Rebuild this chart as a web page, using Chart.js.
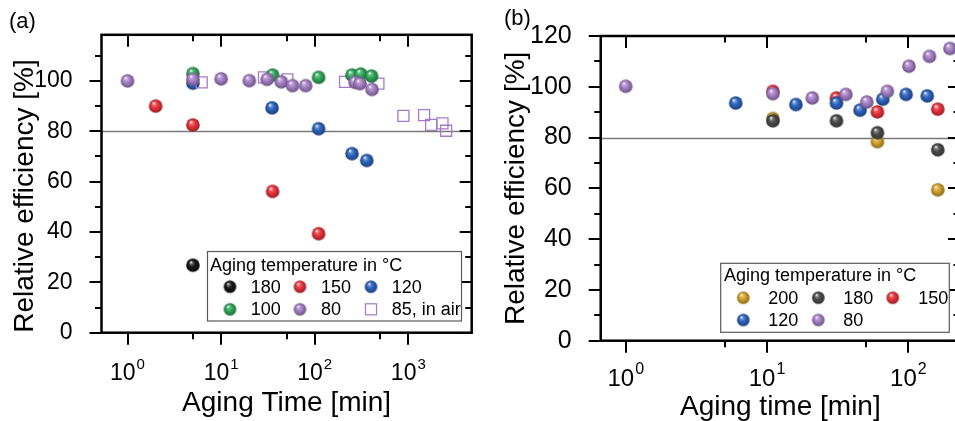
<!DOCTYPE html>
<html lang="en">
<head>
<meta charset="UTF-8">
<title>Relative efficiency vs. aging time</title>
<script src="https://cdn.jsdelivr.net/npm/chart.js"></script>
<style>
  html, body { margin: 0; padding: 0; background: #fff; overflow: hidden; }
  body { width: 955px; height: 421px; position: relative; }
  canvas { position: absolute; top: 0; }
  #chartA { left: 0; }
  #chartB { left: 480px; }
</style>
</head>
<body>
<canvas id="chartA" width="490" height="421"></canvas>
<canvas id="chartB" width="500" height="440"></canvas>
<script>
// ---- panel (a): aging time [min] / relative efficiency [%] ----
const timeA_t180 = [5];
const effA_t180 = [26.8];
const timeA_t150 = [2, 5, 35.5, 110];
const effA_t150 = [90, 82.5, 56.1, 39.3];
const timeA_t120 = [5, 35, 110, 250, 360];
const effA_t120 = [99.1, 89.3, 81.0, 71.1, 68.4];
const timeA_t100 = [5, 35.5, 110, 250, 310, 405];
const effA_t100 = [102.9, 102.3, 101.4, 102.3, 102.7, 101.9];
const timeA_t80 = [1, 5, 10, 20, 31, 44, 58, 80, 270, 305, 410];
const effA_t80 = [100, 100.6, 100.8, 100.1, 100.6, 99.6, 98.1, 98.1, 99.4, 98.9, 96.6];
const timeA_air85 = [6.2, 28.7, 51, 211, 479, 887, 1475, 1754, 2317, 2535];
const effA_air85 = [99.4, 101.4, 100.6, 99.6, 98.9, 86.1, 86.4, 82.5, 83.1, 80.2];

// ---- panel (b) ----
const timeB_t200 = [11, 60.4, 161.5];
const effB_t200 = [87.5, 78.4, 59.4];
const timeB_t180 = [11, 31, 60.4, 161.5];
const effB_t180 = [86.6, 86.6, 81.9, 75.2];
const timeB_t150 = [11, 31, 60.4, 161.5];
const effB_t150 = [98.2, 95.6, 90.1, 91.2];
const timeB_t120 = [6.0, 16.0, 31, 45.5, 65.9, 96.4, 136];
const effB_t120 = [93.6, 93.0, 93.6, 90.8, 95.1, 97.0, 96.4];
const timeB_t80 = [1, 11, 20.9, 36.1, 50.8, 71, 101, 141, 197];
const effB_t80 = [100.2, 97.3, 95.6, 97.0, 94.0, 98.2, 108.1, 112, 115.1];

// axis ticks
const xMajorA = [1, 10, 100, 1000];
const xMinorA = [5, 50, 500];
const xMajorB = [1, 10, 100];
const xMinorB = [5, 50];
const yMajor = [0, 20, 40, 60, 80, 100, 120];
const yMinor = [10, 30, 50, 70, 90, 110];
const thresholdLine = 80;

const FONT = "'Liberation Sans', Arial, sans-serif";
Chart.defaults.font.family = FONT;
Chart.defaults.color = '#000';

const COLORS = {
  t200: '#d3a12a',
  t180: '#151515',
  t180b: '#4a4a4a',
  t150: '#e8323b',
  t120: '#2b63bd',
  t100: '#2fa65a',
  t80: '#a57fc6',
  air: '#a679cb'
};

function hexToRgb(h) {
  const n = parseInt(h.slice(1), 16);
  return [(n >> 16) & 255, (n >> 8) & 255, n & 255];
}
function mix(c1, c2, t) {
  const a = hexToRgb(c1), b = hexToRgb(c2);
  return 'rgb(' + a.map((v, i) => Math.round(v + (b[i] - v) * t)).join(',') + ')';
}

// shaded sphere used as point style
function ball(color, r) {
  const s = Math.ceil(2 * r + 2);
  const c = document.createElement('canvas');
  c.width = s; c.height = s;
  const g = c.getContext('2d');
  const cx = s / 2, cy = s / 2;
  const grad = g.createRadialGradient(cx - r * 0.3, cy - r * 0.45, r * 0.04, cx, cy, r);
  grad.addColorStop(0, '#ffffff');
  grad.addColorStop(0.2, mix(color, '#ffffff', 0.3));
  grad.addColorStop(0.5, color);
  grad.addColorStop(1, mix(color, '#000000', 0.35));
  g.fillStyle = grad;
  g.beginPath();
  g.arc(cx, cy, r, 0, Math.PI * 2);
  g.fill();
  return c;
}

function pts(xs, ys) {
  return xs.map((x, i) => ({ x: x, y: ys[i] }));
}

function ballSet(label, xs, ys, color, order, r) {
  return {
    label: label,
    data: pts(xs, ys),
    pointStyle: ball(color, r),
    pointRadius: r,
    order: order
  };
}

// frame, ticks, x labels, reference line, legend and panel letter
function panelPlugin(o) {
  return {
    id: 'panel',
    beforeDatasetsDraw(chart) {
      const { ctx, chartArea: a, scales: { y } } = chart;
      const py = Math.round(y.getPixelForValue(thresholdLine)) + 0.5;
      ctx.save();
      ctx.strokeStyle = '#7a7a7a';
      ctx.lineWidth = 1.3;
      ctx.beginPath();
      ctx.moveTo(a.left, py);
      ctx.lineTo(a.right, py);
      ctx.stroke();
      ctx.restore();
    },
    afterDraw(chart) {
      const { ctx, chartArea: a, scales: { x, y } } = chart;
      ctx.save();
      ctx.strokeStyle = '#000';
      ctx.lineWidth = 2;
      ctx.beginPath();
      const seg = (x1, y1, x2, y2) => { ctx.moveTo(x1, y1); ctx.lineTo(x2, y2); };
      const inX = v => v >= x.min && v <= x.max;
      o.xMajor.filter(inX).forEach(v => {
        const p = Math.round(x.getPixelForValue(v));
        seg(p, a.bottom, p, a.bottom + o.major);
        seg(p, a.top, p, a.top + o.major);
      });
      o.xMinor.filter(inX).forEach(v => {
        const p = Math.round(x.getPixelForValue(v));
        seg(p, a.bottom, p, a.bottom + o.minor);
        seg(p, a.top, p, a.top + o.minor);
      });
      const inY = v => v >= y.min && v <= y.max;
      yMajor.filter(inY).forEach(v => {
        const p = Math.round(y.getPixelForValue(v));
        seg(a.left - o.major, p, a.left, p);
        seg(a.right - o.major, p, a.right, p);
      });
      yMinor.filter(inY).forEach(v => {
        const p = Math.round(y.getPixelForValue(v));
        seg(a.left - o.minor, p, a.left, p);
        seg(a.right - o.minor, p, a.right, p);
      });
      ctx.stroke();

      ctx.lineWidth = 2.5;
      ctx.strokeRect(a.left, a.top, a.right - a.left, a.bottom - a.top);

      // decade labels with superscript exponent
      ctx.fillStyle = '#000';
      ctx.textBaseline = 'alphabetic';
      ctx.textAlign = 'left';
      o.xMajor.filter(inX).forEach(v => {
        const p = x.getPixelForValue(v);
        const exp = String(Math.round(Math.log10(v)));
        ctx.font = o.tickSize + 'px ' + FONT;
        const wb = ctx.measureText('10').width;
        ctx.font = o.supSize + 'px ' + FONT;
        const ws = ctx.measureText(exp).width;
        const x0 = p - (wb + ws + 1) / 2;
        ctx.font = o.tickSize + 'px ' + FONT;
        ctx.fillText('10', x0, o.tickBase);
        ctx.font = o.supSize + 'px ' + FONT;
        ctx.fillText(exp, x0 + wb + 1, o.supBase);
      });

      // panel letter
      ctx.font = '22px ' + FONT;
      ctx.fillText(o.letter[0], o.letter[1], o.letter[2]);

      // legend
      const L = o.legend;
      ctx.fillStyle = '#fff';
      ctx.fillRect(L.box[0], L.box[1], L.box[2], L.box[3]);
      ctx.strokeStyle = '#5a5a5a';
      ctx.lineWidth = 1.2;
      ctx.strokeRect(L.box[0], L.box[1], L.box[2], L.box[3]);
      ctx.fillStyle = '#000';
      ctx.font = '18px ' + FONT;
      ctx.textBaseline = 'middle';
      ctx.fillText('Aging temperature in °C', L.titleX, L.titleY);
      L.items.forEach(it => {
        const cx = L.cols[it.col][0], cy = L.rows[it.row];
        if (it.square) {
          ctx.strokeStyle = COLORS.air;
          ctx.lineWidth = 1.2;
          ctx.strokeRect(cx - 5.5, cy - 5.5, 11, 11);
        } else {
          const img = ball(it.color, 6.3);
          ctx.drawImage(img, cx - img.width / 2, cy - img.height / 2);
        }
        ctx.fillStyle = '#000';
        ctx.fillText(it.text, L.cols[it.col][1], cy + 1);
      });
      ctx.restore();
    }
  };
}

function yScale(max, size, titleAlign, titlePadTop, width) {
  return {
    type: 'linear',
    min: 0,
    max: max,
    grid: { display: false },
    border: { display: false },
    ticks: { stepSize: 20, includeBounds: false, padding: 21, font: { size: size } },
    title: {
      display: true,
      text: 'Relative efficiency [%]',
      align: titleAlign,
      font: { size: 28, lineHeight: 1 },
      padding: { top: titlePadTop, bottom: 0 }
    },
    afterFit(s) { s.width = width; }
  };
}

function xScale(min, max, text, titlePadBottom, height) {
  return {
    type: 'logarithmic',
    min: min,
    max: max,
    grid: { display: false },
    border: { display: false },
    ticks: { display: false },
    title: {
      display: true,
      text: text,
      font: { size: 28, lineHeight: 1 },
      padding: { top: 0, bottom: titlePadBottom }
    },
    afterFit(s) { s.height = height; }
  };
}

const baseOptions = {
  responsive: false,
  animation: false,
  devicePixelRatio: 1,
  plugins: { legend: { display: false }, tooltip: { enabled: false } },
  events: []
};

const R = 6.8;

new Chart(document.getElementById('chartA'), {
  type: 'scatter',
  data: {
    datasets: [
      ballSet('80', timeA_t80, effA_t80, COLORS.t80, 0, R),
      {
        label: '85, in air',
        data: pts(timeA_air85, effA_air85),
        pointStyle: 'rect',
        pointRadius: 7.8,
        borderColor: COLORS.air,
        backgroundColor: 'rgba(0,0,0,0)',
        borderWidth: 1.3,
        order: 2
      },
      ballSet('100', timeA_t100, effA_t100, COLORS.t100, 1, R),
      ballSet('120', timeA_t120, effA_t120, COLORS.t120, 3, R),
      ballSet('150', timeA_t150, effA_t150, COLORS.t150, 4, R),
      ballSet('180', timeA_t180, effA_t180, COLORS.t180, 5, R)
    ]
  },
  options: Object.assign({}, baseOptions, {
    layout: { padding: { left: 0, top: 22.7, right: 18.3, bottom: 0 } },
    scales: {
      x: xScale(0.5275, 4757, 'Aging Time [min]', 3.7, 88.3),
      y: yScale(118.3, 23, 'start', 11, 101.5)
    }
  }),
  plugins: [panelPlugin({
    xMajor: xMajorA, xMinor: xMinorA, major: 12, minor: 6.5,
    tickSize: 23, supSize: 15, tickBase: 379.5, supBase: 368.5,
    letter: ['(a)', 9, 28],
    legend: {
      box: [207.5, 251.5, 254, 69.5],
      titleX: 210, titleY: 266,
      rows: [286.7, 309.3],
      cols: [[230, 250.7], [300, 321], [371, 391.7]],
      items: [
        { row: 0, col: 0, color: COLORS.t180, text: '180' },
        { row: 0, col: 1, color: COLORS.t150, text: '150' },
        { row: 0, col: 2, color: COLORS.t120, text: '120' },
        { row: 1, col: 0, color: COLORS.t100, text: '100' },
        { row: 1, col: 1, color: COLORS.t80, text: '80' },
        { row: 1, col: 2, square: true, text: '85, in air' }
      ]
    }
  })]
});

new Chart(document.getElementById('chartB'), {
  type: 'scatter',
  data: {
    datasets: [
      ballSet('80', timeB_t80, effB_t80, COLORS.t80, 0, R),
      ballSet('120', timeB_t120, effB_t120, COLORS.t120, 1, R),
      ballSet('150', timeB_t150, effB_t150, COLORS.t150, 2, R),
      ballSet('180', timeB_t180, effB_t180, COLORS.t180b, 3, R),
      ballSet('200', timeB_t200, effB_t200, COLORS.t200, 4, R)
    ]
  },
  options: Object.assign({}, baseOptions, {
    layout: { padding: { left: 0, top: 33.3, right: 20, bottom: 0 } },
    scales: {
      x: xScale(0.665, 232, 'Aging time [min]', 19, 99.3),
      y: yScale(120, 25, 'center', 22.7, 120.7)
    }
  }),
  plugins: [panelPlugin({
    xMajor: xMajorB, xMinor: xMinorB, major: 12, minor: 6.5,
    tickSize: 24, supSize: 16, tickBase: 386, supBase: 374,
    letter: ['(b)', 24, 25],
    legend: {
      box: [240.7, 263.3, 228.6, 69],
      titleX: 244, titleY: 276,
      rows: [297.7, 320],
      cols: [[263.3, 288.3], [338.3, 363.3], [412.7, 438.3]],
      items: [
        { row: 0, col: 0, color: COLORS.t200, text: '200' },
        { row: 0, col: 1, color: COLORS.t180b, text: '180' },
        { row: 0, col: 2, color: COLORS.t150, text: '150' },
        { row: 1, col: 0, color: COLORS.t120, text: '120' },
        { row: 1, col: 1, color: COLORS.t80, text: '80' }
      ]
    }
  })]
});
</script>
</body>
</html>
